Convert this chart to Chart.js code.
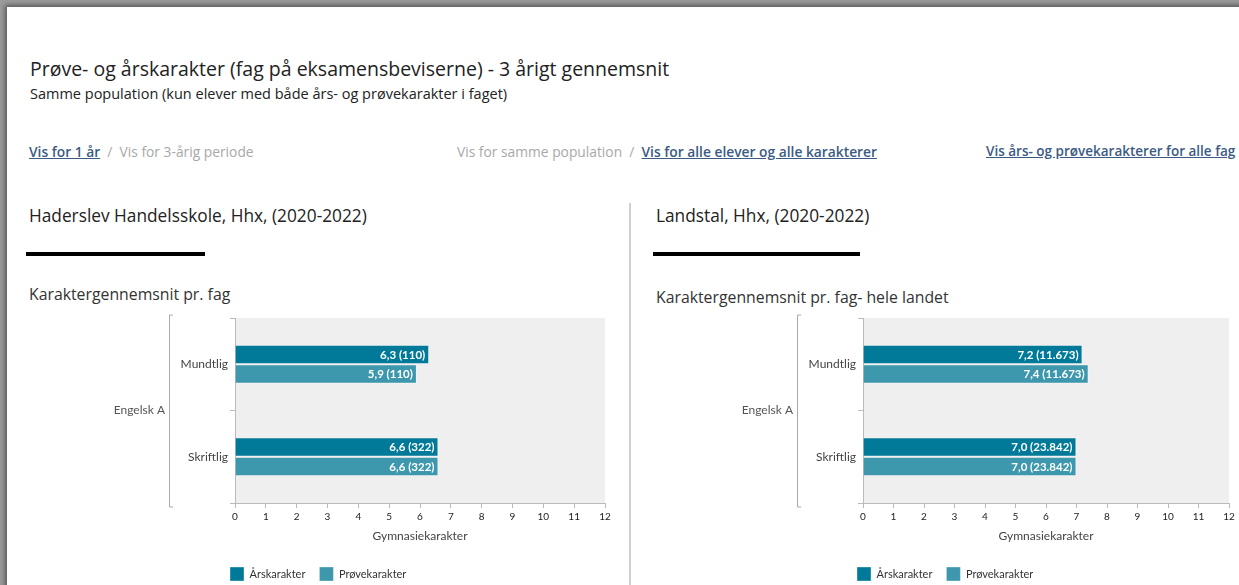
<!DOCTYPE html>
<html>
<head>
<meta charset="utf-8">
<script src="https://cdn.jsdelivr.net/npm/chart.js@4/dist/chart.umd.min.js"></script>
<style>
  html, body { margin: 0; padding: 0; width: 1239px; height: 585px; overflow: hidden; background: #9c9c9c; }
  .side { position: absolute; left: 7px; top: 7px; width: 1240px; height: 590px; background: #fff; box-shadow: -2px -2px 5px #555; font-family: "Open Sans", sans-serif; color: #222; }
  .t { position: absolute; white-space: nowrap; }
  .link { color: #3b5b84; text-decoration: underline; font-weight: 600; }
  .graa { color: #a8a8a8; }
  .streg { position: absolute; height: 4px; background: #000; }
  canvas { position: absolute; }
</style>
</head>
<body>
<div class="side">
  <div class="t" style="left:23px;top:48px;font-size:19.5px;">Prøve- og årskarakter (fag på eksamensbeviserne) - 3 årigt gennemsnit</div>
  <div class="t" style="left:23px;top:77px;font-size:14.5px;">Samme population (kun elever med både års- og prøvekarakter i faget)</div>

  <div class="t" style="left:22px;top:135px;font-size:13.8px;"><span class="link">Vis for 1 år</span> <span class="graa">&nbsp;/&nbsp; Vis for 3-årig periode</span></div>
  <div class="t" style="left:450px;top:135px;font-size:13.8px;"><span class="graa">Vis for samme population &nbsp;/&nbsp;</span> <span class="link">Vis for alle elever og alle karakterer</span></div>
  <div class="t" style="left:979px;top:135px;font-size:13.5px;"><span class="link">Vis års- og prøvekarakterer for alle fag</span></div>

  <div class="t" style="left:22px;top:197px;font-size:17.3px;">Haderslev Handelsskole, Hhx, (2020-2022)</div>
  <div class="streg" style="left:19px;top:245px;width:179px;"></div>
  <div class="t" style="left:22px;top:276px;font-size:15.8px;color:#333;">Karaktergennemsnit pr. fag</div>

  <div style="position:absolute;left:622px;top:196px;width:2px;height:400px;background:#d0d0d0;"></div>

  <div class="t" style="left:649px;top:197px;font-size:17.3px;">Landstal, Hhx, (2020-2022)</div>
  <div class="streg" style="left:646px;top:245px;width:207px;"></div>
  <div class="t" style="left:649px;top:279px;font-size:15.8px;color:#333;">Karaktergennemsnit pr. fag- hele landet</div>
</div>

<canvas id="venstre" width="515" height="286" style="left:100px;top:305px;"></canvas>
<canvas id="hoejre" width="519" height="286" style="left:720px;top:305px;"></canvas>

<script>
// data
const kategorier = ["Mundtlig", "Skriftlig"];
const fagGruppe = "Engelsk A";
const serieNavne = ["Årskarakter", "Prøvekarakter"];
const skoleAar = [6.3, 6.6];
const skoleProeve = [5.9, 6.6];
const skoleAntal = [110, 322];
const landAar = [7.2, 7.0];
const landProeve = [7.4, 7.0];
const landAntal = [11673, 23842];
const xMin = 0;
const xMax = 12;
const farver = ["#017a99", "#3d97ad"];

Chart.defaults.font.family = "Lato, sans-serif";
Chart.defaults.color = "#444";

function formatAntal(n) {
  return String(n).replace(/\B(?=(\d{3})+(?!\d))/g, ".");
}

// grå baggrund i plotområdet
const baggrund = {
  id: "baggrund",
  beforeDraw(chart) {
    const a = chart.chartArea, ctx = chart.ctx;
    ctx.save();
    ctx.fillStyle = "#efefef";
    ctx.fillRect(a.left, a.top, a.right - a.left, a.bottom - a.top);
    ctx.restore();
    // flyt legenden hen hvor den står på billedet
    const o = chart.options.plugins.ekstra;
    if (chart.legend) chart.legend.left = o.legendX - chart.options.plugins.legend.labels.padding;
  }
};

// værdier i søjlerne + gruppe-label med klamme
const ekstra = {
  id: "ekstra",
  afterDatasetsDraw(chart, args, o) {
    const ctx = chart.ctx;
    ctx.save();
    ctx.font = "bold 11.5px Lato, sans-serif";
    ctx.fillStyle = "#fff";
    ctx.textAlign = "right";
    ctx.textBaseline = "middle";
    chart.data.datasets.forEach((ds, i) => {
      chart.getDatasetMeta(i).data.forEach((bar, j) => {
        const tekst = ds.data[j].toFixed(1).replace(".", ",") + " (" + formatAntal(o.antal[j]) + ")";
        ctx.fillText(tekst, bar.x - 4, bar.y + 0.5);
      });
    });

    const a = chart.chartArea;
    ctx.strokeStyle = "#aaa";
    ctx.lineWidth = 1;
    ctx.beginPath();
    ctx.moveTo(o.klammeX + 4, a.top - 3);
    ctx.lineTo(o.klammeX + 0.5, a.top - 3);
    ctx.lineTo(o.klammeX + 0.5, a.bottom + 4);
    ctx.lineTo(o.klammeX + 4, a.bottom + 4);
    ctx.stroke();

    ctx.font = "12px Lato, sans-serif";
    ctx.fillStyle = "#555";
    ctx.fillText(fagGruppe, o.klammeX - 4, (a.top + a.bottom) / 2);
    ctx.restore();
  }
};

function lavGraf(id, aar, proeve, antal, yBredde, klammeX, legendX) {
  new Chart(document.getElementById(id), {
    type: "bar",
    data: {
      labels: kategorier,
      datasets: [
        { label: serieNavne[0], data: aar, backgroundColor: farver[0], borderColor: "rgba(255,255,255,0.35)", borderWidth: 1 },
        { label: serieNavne[1], data: proeve, backgroundColor: farver[1], borderColor: "rgba(255,255,255,0.35)", borderWidth: 1 }
      ]
    },
    plugins: [baggrund, ekstra],
    options: {
      indexAxis: "y",
      responsive: false,
      animation: false,
      categoryPercentage: 0.42,
      barPercentage: 1,
      layout: { padding: { top: 13, right: 10, left: 0, bottom: 0 } },
      scales: {
        x: {
          min: xMin,
          max: xMax,
          ticks: { stepSize: 1, color: "#222", font: { size: 10 }, padding: 3, maxRotation: 0 },
          grid: { drawOnChartArea: false, tickLength: 5, color: "#bbb" },
          border: { color: "#bbb" },
          title: { display: true, text: "Gymnasiekarakter", color: "#444", font: { size: 12 }, padding: { top: 4, bottom: 10 } },
          afterFit(s) { s.height = 50; }
        },
        y: {
          ticks: { color: "#444", font: { size: 12 }, padding: 2 },
          grid: { drawOnChartArea: false, tickLength: 5, color: "#bbb" },
          border: { color: "#bbb" },
          afterFit(s) { s.width = yBredde; }
        }
      },
      plugins: {
        legend: {
          position: "bottom",
          align: "start",
          labels: { boxWidth: 14, boxHeight: 14, padding: 14, color: "#333", font: { size: 11 } }
        },
        tooltip: { enabled: false },
        ekstra: { antal: antal, klammeX: klammeX, legendX: legendX }
      }
    }
  });
}

lavGraf("venstre", skoleAar, skoleProeve, skoleAntal, 135, 69, 130);
lavGraf("hoejre", landAar, landProeve, landAntal, 143, 77, 137);
</script>
</body>
</html>
